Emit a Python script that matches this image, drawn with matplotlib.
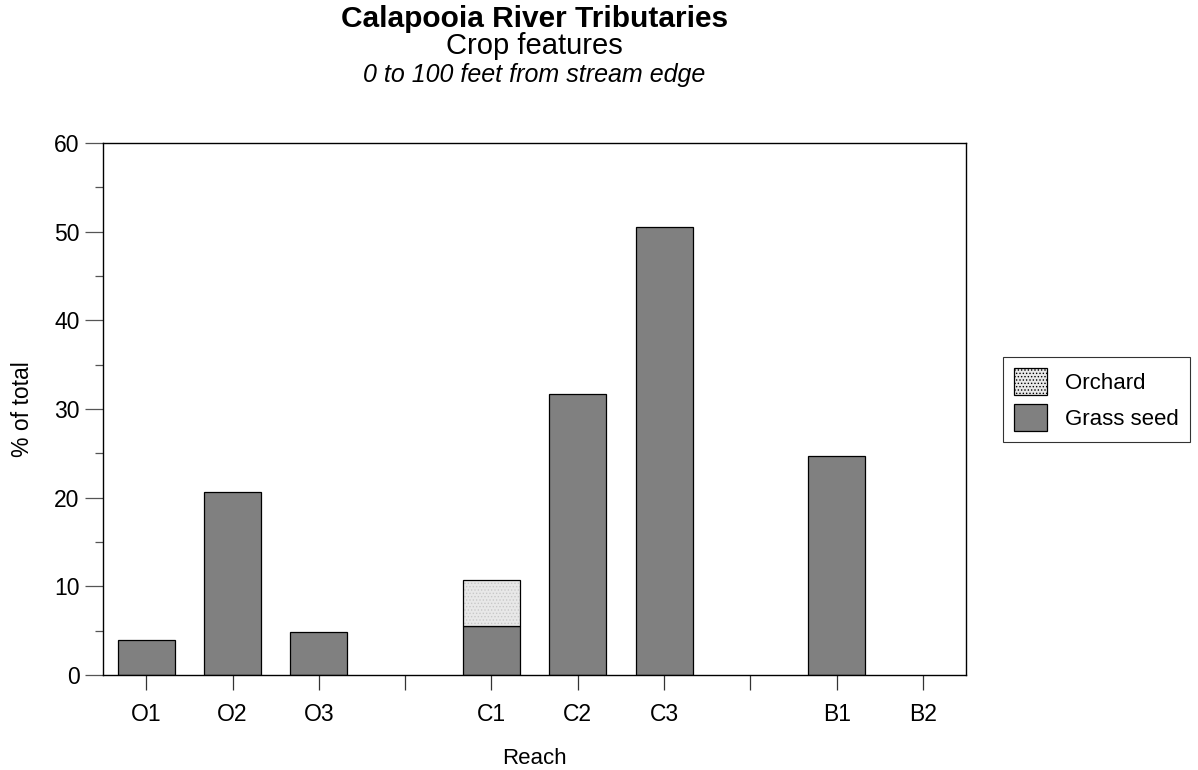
import matplotlib
matplotlib.use("Agg")
import matplotlib.pyplot as plt
from matplotlib.patches import Patch
import numpy as np

plt.rcParams['font.family'] = ['Liberation Sans', 'DejaVu Sans']
plt.rcParams['hatch.linewidth'] = 0.6

# Reach slots (empty strings are spacer slots between stream groups)
reaches = ["O1", "O2", "O3", "", "C1", "C2", "C3", "", "B1", "B2"]
grass_seed = [3.9, 20.6, 4.8, 0, 5.5, 31.7, 50.5, 0, 24.7, 0]
orchard = [0, 0, 0, 0, 5.2, 0, 0, 0, 0, 0]

fig = plt.figure(figsize=(11.98, 7.70), dpi=100)
ax_left, ax_bottom, ax_w, ax_h = 0.086, 0.1234, 0.7205, 0.691
ax = fig.add_axes([ax_left, ax_bottom, ax_w, ax_h])

x = np.arange(len(reaches))
w = 0.66
grass = np.array(grass_seed)
orch = np.array(orchard)

mask_g = grass > 0
ax.bar(x[mask_g], grass[mask_g], width=w, color="#808080", edgecolor="black",
       linewidth=0.9, zorder=2)
mask_o = orch > 0
# stippled fill for the orchard segment, then its outline on top
ax.bar(x[mask_o], orch[mask_o], width=w, bottom=grass[mask_o],
       color="#e8e8e8", edgecolor="none", linewidth=0, zorder=2)
ax.bar(x[mask_o], orch[mask_o], width=w, bottom=grass[mask_o],
       color="none", edgecolor="#c8c8c8", hatch=".....", linewidth=0, zorder=2)
ax.bar(x[mask_o], orch[mask_o], width=w, bottom=grass[mask_o],
       color="none", edgecolor="black", linewidth=0.9, zorder=3)

ax.set_xlim(-0.5, len(reaches) - 0.5)
ax.set_ylim(0, 60)
ax.set_xticks(x)
ax.set_xticklabels(reaches, fontsize=16.5)
ax.set_yticks(np.arange(0, 61, 10))
ax.set_yticks(np.arange(5, 60, 10), minor=True)
ax.tick_params(axis='y', which='major', length=13, width=0.9, color="#555555",
               labelsize=16.5, pad=4)
ax.tick_params(axis='y', which='minor', length=6, width=0.9, color="#555555")
ax.tick_params(axis='x', which='major', length=11, width=0.9, color="#333333",
               pad=9)
for s in ax.spines.values():
    s.set_linewidth(1.0)
    s.set_color("black")

ax.set_xlabel("Reach", fontsize=16, labelpad=16)
ax.set_ylabel("% of total", fontsize=16.5, labelpad=14)

cx = ax_left + ax_w / 2
fig.text(cx, 1 - 19 / 770, "Calapooia River Tributaries", ha="center",
         va="center", fontsize=21.5, fontweight="bold")
fig.text(cx, 1 - 46 / 770, "Crop features", ha="center", va="center",
         fontsize=21)
fig.text(cx, 1 - 75 / 770, "0 to 100 feet from stream edge", ha="center",
         va="center", fontsize=18, style="italic")

handles = [
    Patch(facecolor="#e8e8e8", edgecolor="black", hatch=".....", linewidth=0.9,
          label="Orchard"),
    Patch(facecolor="#808080", edgecolor="black", linewidth=0.9,
          label="Grass seed"),
]
leg = fig.legend(handles=handles, loc="upper left",
                 bbox_to_anchor=(1003 / 1198, 1 - 357 / 770), fontsize=16,
                 frameon=True, fancybox=False, edgecolor="black",
                 handlelength=1.5, handleheight=1.5, handletextpad=0.8,
                 borderpad=0.5, labelspacing=0.4, borderaxespad=0)
leg.get_frame().set_linewidth(0.8)

fig.savefig("out.png", dpi=100)
